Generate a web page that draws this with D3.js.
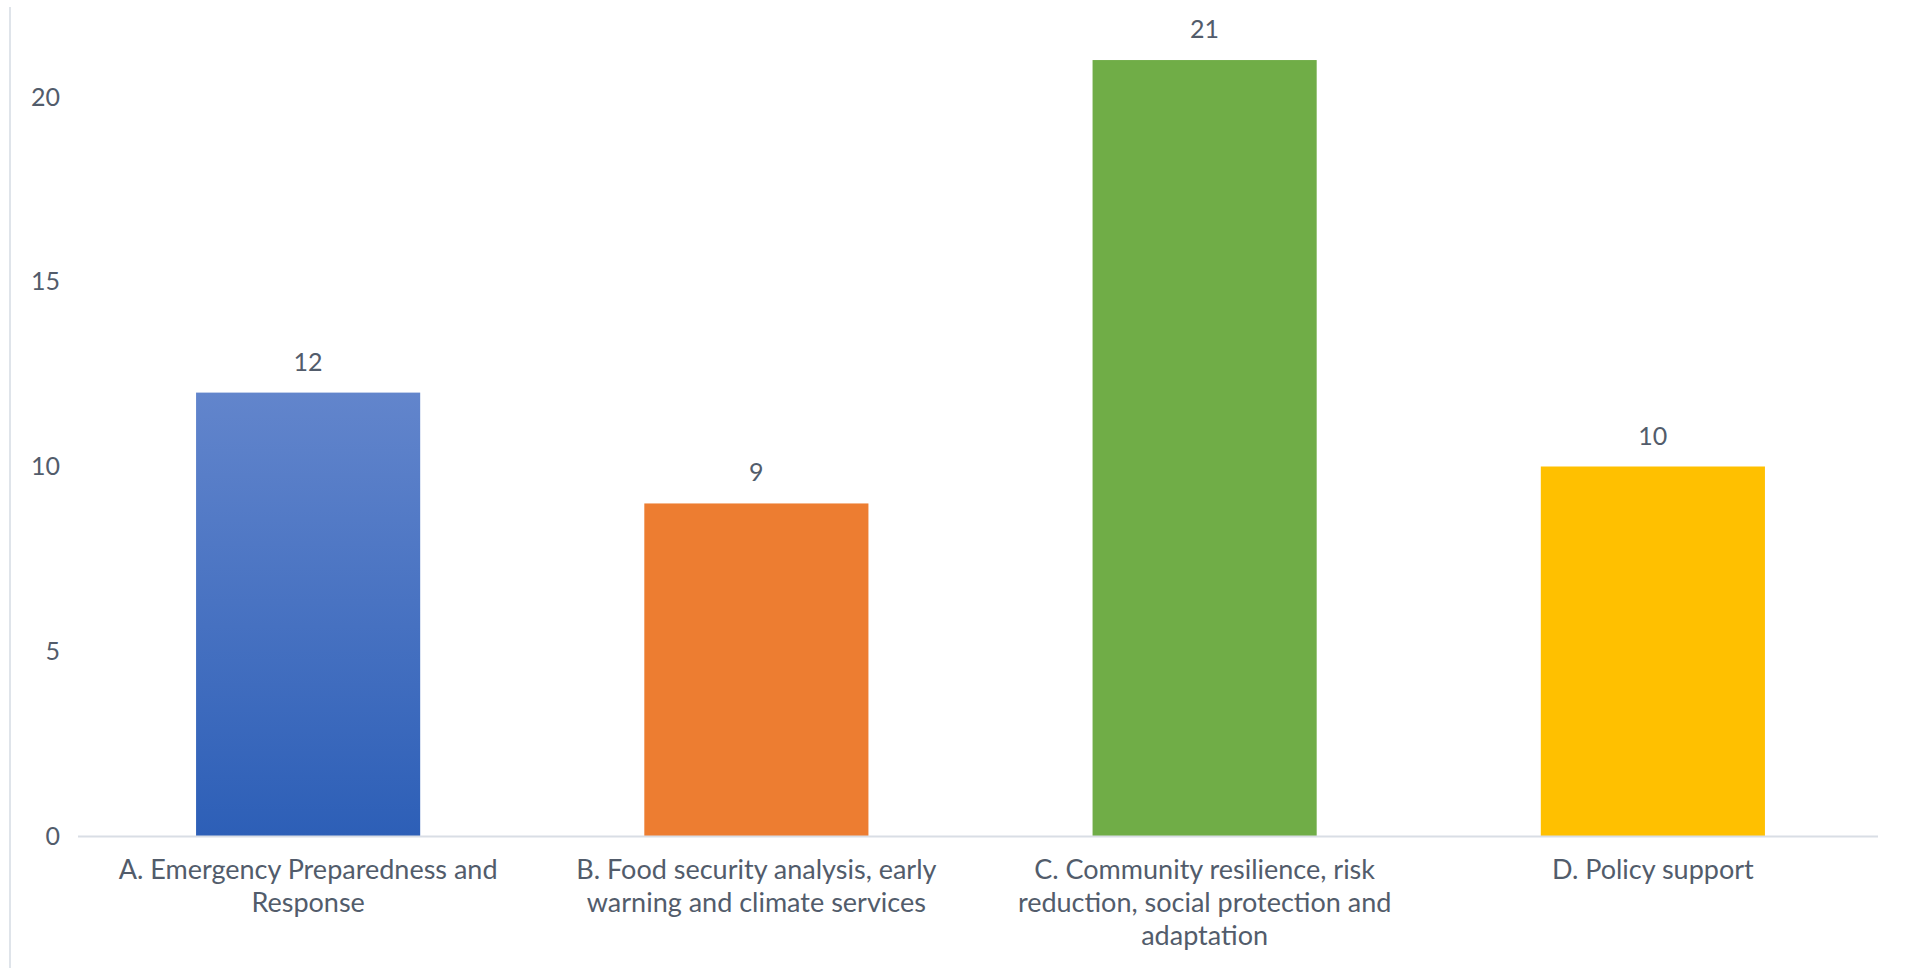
<!DOCTYPE html>
<html>
<head>
<meta charset="utf-8">
<script src="https://cdn.jsdelivr.net/npm/d3@7"></script>
<style>
  body { margin: 0; background: #fff; }
  svg { display: block; }
  text { font-family: Lato, "Open Sans", sans-serif; fill: #525c6b; }
</style>
</head>
<body>
<svg id="chart" width="1907" height="968"></svg>
<script>
// data
var categories = ['A', 'B', 'C', 'D']
var categoryLines = [
    ['A. Emergency Preparedness and', 'Response'],
    ['B. Food security analysis, early', 'warning and climate services'],
    ['C. Community resilience, risk', 'reduction, social protection and', 'adaptation'],
    ['D. Policy support']
]
var values = [12, 9, 21, 10]
var colors = ['#4472c4', '#ed7d31', '#70ad47', '#ffc000']
var yTicks = [0, 5, 10, 15, 20]

var svg = d3.select('#chart')

var base = 836
var x = d3.scaleBand()
    .domain(categories)
    .range([84, 1877])
    .paddingInner(0.5)
    .paddingOuter(0.25)

var y = d3.scaleLinear()
    .domain([0, 20])
    .range([base, 97])

// gradient for the first (blue) bar
var grad = svg.append('defs').append('linearGradient')
    .attr('id', 'blueGrad')
    .attr('x1', 0).attr('y1', 0).attr('x2', 0).attr('y2', 1)
grad.append('stop').attr('offset', '0%').attr('stop-color', '#6285cc')
grad.append('stop').attr('offset', '100%').attr('stop-color', '#2d5fb7')

// frame line on the left
svg.append('line')
    .attr('x1', 10).attr('x2', 10)
    .attr('y1', 7).attr('y2', 968)
    .style('stroke', '#dfe4ea')
    .style('stroke-width', '2px')

// y axis labels (no axis line, no ticks)
var yAxis = d3.axisLeft(y).tickValues(yTicks).tickSize(0).tickPadding(0)
var gy = svg.append('g')
    .attr('transform', 'translate(60,0)')
    .call(yAxis)
gy.select('.domain').remove()
gy.selectAll('text')
    .style('font-size', '25px')
    .style('font-family', 'Lato, "Open Sans", sans-serif')
    .attr('fill', '#525c6b')

// bars
svg.selectAll('rect.bar')
    .data(values)
    .enter()
    .append('rect')
    .attr('class', 'bar')
    .attr('x', function(d, i) { return x(categories[i]) })
    .attr('width', x.bandwidth())
    .attr('y', function(d) { return y(d) })
    .attr('height', function(d) { return base - y(d) })
    .style('fill', function(d, i) { return i === 0 ? 'url(#blueGrad)' : colors[i] })

// baseline
svg.append('line')
    .attr('x1', 78).attr('x2', 1878)
    .attr('y1', base + 0.5).attr('y2', base + 0.5)
    .style('stroke', '#d9dee5')
    .style('stroke-width', '2px')

// value labels
svg.selectAll('text.val')
    .data(values)
    .enter()
    .append('text')
    .attr('class', 'val')
    .attr('x', function(d, i) { return x(categories[i]) + x.bandwidth() / 2 })
    .attr('y', function(d) { return y(d) - 22 })
    .attr('text-anchor', 'middle')
    .style('font-size', '25px')
    .text(function(d) { return d })

// category labels, one tspan per line
var cat = svg.selectAll('text.cat')
    .data(categoryLines)
    .enter()
    .append('text')
    .attr('class', 'cat')
    .attr('text-anchor', 'middle')
    .style('font-size', '27px')
cat.each(function(lines, i) {
    var t = d3.select(this)
    var cx = x(categories[i]) + x.bandwidth() / 2
    lines.forEach(function(line, j) {
        t.append('tspan')
            .attr('x', cx)
            .attr('y', base + 43 + j * 33)
            .text(line)
    })
})
</script>
</body>
</html>
